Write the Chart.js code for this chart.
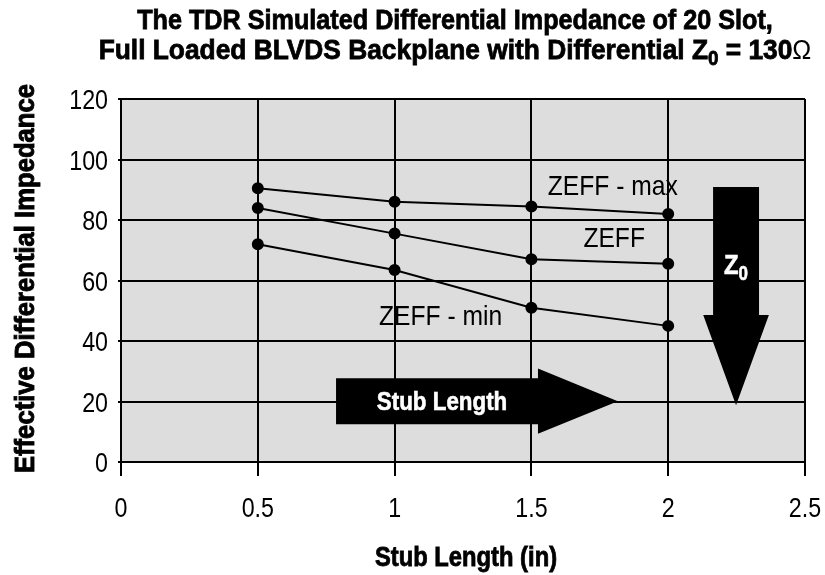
<!DOCTYPE html>
<html>
<head>
<meta charset="utf-8">
<script src="https://cdn.jsdelivr.net/npm/chart.js@4.4.1/dist/chart.umd.min.js"></script>
<style>
html, body { margin: 0; padding: 0; background: #fff; }
canvas { display: block; }
</style>
</head>
<body>
<canvas id="tdr" width="825" height="575"></canvas>
<script>
// stub length (in) vs effective differential impedance (ohm)
const stubLengths = [0.5, 1, 1.5, 2];
const zeffMax = [90.5, 86, 84.5, 82];
const zeffTyp = [84, 75.5, 67, 65.5];
const zeffMin = [72, 63.5, 51, 45];

const xTicks = [0, 0.5, 1, 1.5, 2, 2.5];
const yTicks = [0, 20, 40, 60, 80, 100, 120];

const FAMILY = "'Liberation Sans', Arial, sans-serif";
const PLOT_BG = '#dddddd';

// curve names, placed in data units
const curveLabels = [
    { text: 'ZEFF - max', x: 1.56, y: 90.9 },
    { text: 'ZEFF', x: 1.69, y: 73.7 },
    { text: 'ZEFF - min', x: 0.943, y: 47.9 }
];

// the two direction arrows, in data units
const stubArrow = { x0: 0.786, x1: 1.524, tip: 1.816, yMid: 20.1, halfBody: 7.6, halfHead: 10.8, text: 'Stub Length' };
const z0Arrow = { xMid: 2.248, halfBody: 0.084, halfHead: 0.12, yTop: 90.9, yBase: 48.6, tip: 18.8 };

function points(ys) {
    return stubLengths.map((x, i) => ({ x: x, y: ys[i] }));
}

function lineSet(label, ys) {
    return {
        label: label,
        data: points(ys),
        borderColor: '#000',
        backgroundColor: '#000',
        borderWidth: 2,
        pointRadius: 5,
        pointHoverRadius: 5,
        tension: 0
    };
}

// text squeezed horizontally by sx, to get a narrow face out of a normal one;
// an optional thin stroke puts back some of the weight lost by squeezing
function narrowText(ctx, text, x, y, o) {
    ctx.save();
    ctx.font = o.font;
    ctx.fillStyle = o.color || '#000';
    ctx.strokeStyle = o.color || '#000';
    ctx.textAlign = o.align || 'left';
    ctx.textBaseline = o.baseline || 'alphabetic';
    ctx.translate(x, y);
    if (o.rotate) ctx.rotate(o.rotate);
    ctx.scale(o.sx || 1, 1);
    ctx.fillText(text, 0, 0);
    if (o.heavy) {
        ctx.lineWidth = o.heavy;
        ctx.strokeText(text, 0, 0);
    }
    ctx.restore();
}

// a run of pieces (own font / vertical shift each), squeezed by sx
function narrowRuns(ctx, runs, x, y, sx, align, color, heavy) {
    ctx.save();
    let total = 0;
    runs.forEach(r => { ctx.font = r.font; total += ctx.measureText(r.text).width; });
    ctx.translate(x, y);
    ctx.scale(sx, 1);
    ctx.fillStyle = color || '#000';
    ctx.strokeStyle = color || '#000';
    ctx.textAlign = 'left';
    ctx.textBaseline = 'alphabetic';
    let cx = align === 'center' ? -total / 2 : 0;
    runs.forEach(r => {
        ctx.font = r.font;
        ctx.fillText(r.text, cx, r.dy || 0);
        if (heavy && !r.light) {
            ctx.lineWidth = heavy;
            ctx.strokeText(r.text, cx, r.dy || 0);
        }
        cx += ctx.measureText(r.text).width;
    });
    ctx.restore();
}

const plotBackground = {
    id: 'plotBackground',
    beforeDraw(chart) {
        const { ctx, chartArea: a } = chart;
        ctx.save();
        ctx.fillStyle = PLOT_BG;
        ctx.fillRect(a.left, a.top, a.right - a.left, a.bottom - a.top);
        ctx.restore();
    }
};

// tick labels, axis titles and the two-line heading
const axisText = {
    id: 'axisText',
    afterDraw(chart) {
        const { ctx, chartArea: a, scales: { x, y } } = chart;
        const tickFont = '28px ' + FAMILY;

        x.ticks.forEach(t => {
            narrowText(ctx, String(t.value), x.getPixelForValue(t.value), 517,
                { font: tickFont, sx: 0.83, align: 'center' });
        });
        y.ticks.forEach(t => {
            narrowText(ctx, String(t.value), a.left - 13, y.getPixelForValue(t.value) + 10,
                { font: tickFont, sx: 0.83, align: 'right' });
        });

        narrowText(ctx, 'Stub Length (in)', (a.left + a.right) / 2 + 3, 566,
            { font: 'bold 27px ' + FAMILY, sx: 0.88, align: 'center', heavy: 0.8 });
        narrowText(ctx, 'Effective Differential Impedance', 34, (a.top + a.bottom) / 2 - 2,
            { font: 'bold 27px ' + FAMILY, sx: 0.95, align: 'center', rotate: -Math.PI / 2, heavy: 0.9 });

        const bold = 'bold 28px ' + FAMILY;
        narrowRuns(ctx, [{ text: 'The TDR Simulated Differential Impedance of 20 Slot,', font: bold }],
            455, 29, 0.9, 'center', '#000', 0.8);
        narrowRuns(ctx, [
            { text: 'Full Loaded BLVDS Backplane with Differential Z', font: bold },
            { text: '0', font: 'bold 20px ' + FAMILY, dy: 6 },
            { text: ' = 130', font: bold },
            { text: '\u03A9', font: '27px ' + FAMILY, light: true }
        ], 455, 59, 0.94, 'center', '#000', 0.8);
    }
};

const annotations = {
    id: 'annotations',
    afterDatasetsDraw(chart) {
        const { ctx, scales: { x, y } } = chart;

        // curve names
        curveLabels.forEach(l => narrowText(ctx, l.text, x.getPixelForValue(l.x), y.getPixelForValue(l.y),
            { font: '28px ' + FAMILY, sx: 0.88, baseline: 'middle' }));

        ctx.save();
        ctx.fillStyle = '#000';

        // horizontal "Stub Length" arrow
        const s = stubArrow;
        ctx.beginPath();
        ctx.moveTo(x.getPixelForValue(s.x0), y.getPixelForValue(s.yMid + s.halfBody));
        ctx.lineTo(x.getPixelForValue(s.x1), y.getPixelForValue(s.yMid + s.halfBody));
        ctx.lineTo(x.getPixelForValue(s.x1), y.getPixelForValue(s.yMid + s.halfHead));
        ctx.lineTo(x.getPixelForValue(s.tip), y.getPixelForValue(s.yMid));
        ctx.lineTo(x.getPixelForValue(s.x1), y.getPixelForValue(s.yMid - s.halfHead));
        ctx.lineTo(x.getPixelForValue(s.x1), y.getPixelForValue(s.yMid - s.halfBody));
        ctx.lineTo(x.getPixelForValue(s.x0), y.getPixelForValue(s.yMid - s.halfBody));
        ctx.closePath();
        ctx.fill();

        // vertical Z0 arrow
        const z = z0Arrow;
        ctx.beginPath();
        ctx.moveTo(x.getPixelForValue(z.xMid - z.halfBody), y.getPixelForValue(z.yTop));
        ctx.lineTo(x.getPixelForValue(z.xMid + z.halfBody), y.getPixelForValue(z.yTop));
        ctx.lineTo(x.getPixelForValue(z.xMid + z.halfBody), y.getPixelForValue(z.yBase));
        ctx.lineTo(x.getPixelForValue(z.xMid + z.halfHead), y.getPixelForValue(z.yBase));
        ctx.lineTo(x.getPixelForValue(z.xMid), y.getPixelForValue(z.tip));
        ctx.lineTo(x.getPixelForValue(z.xMid - z.halfHead), y.getPixelForValue(z.yBase));
        ctx.lineTo(x.getPixelForValue(z.xMid - z.halfBody), y.getPixelForValue(z.yBase));
        ctx.closePath();
        ctx.fill();
        ctx.restore();

        narrowText(ctx, s.text, x.getPixelForValue(s.x0) + 106, y.getPixelForValue(s.yMid) + 9,
            { font: 'bold 26px ' + FAMILY, sx: 0.86, align: 'center', color: '#fff', heavy: 0.6 });
        narrowRuns(ctx, [
            { text: 'Z', font: 'bold 28px ' + FAMILY },
            { text: '0', font: 'bold 20px ' + FAMILY, dy: 6 }
        ], x.getPixelForValue(z.xMid), y.getPixelForValue(63.5) + 4, 0.85, 'center', '#fff', 0.6);
    }
};

Chart.defaults.font.family = FAMILY;
Chart.defaults.color = '#000';

new Chart(document.getElementById('tdr'), {
    type: 'line',
    data: {
        datasets: [
            lineSet('ZEFF - max', zeffMax),
            lineSet('ZEFF', zeffTyp),
            lineSet('ZEFF - min', zeffMin)
        ]
    },
    options: {
        responsive: false,
        animation: false,
        layout: { padding: { top: 99, right: 20, left: 0, bottom: 0 } },
        plugins: {
            legend: { display: false },
            title: { display: false },
            tooltip: { enabled: false }
        },
        scales: {
            x: {
                type: 'linear',
                min: 0,
                max: 2.5,
                afterBuildTicks: s => { s.ticks = xTicks.map(v => ({ value: v })); },
                afterFit: s => { s.height = 113; },
                border: { display: false },
                grid: { color: '#000', lineWidth: 2, drawTicks: true, tickLength: 14, tickColor: '#000' },
                ticks: { display: false }
            },
            y: {
                min: 0,
                max: 120,
                afterBuildTicks: s => { s.ticks = yTicks.map(v => ({ value: v })); },
                afterFit: s => { s.width = 121; },
                border: { display: false },
                grid: { color: '#000', lineWidth: 2, drawTicks: true, tickLength: 3, tickColor: '#000' },
                ticks: { display: false }
            }
        }
    },
    plugins: [plotBackground, axisText, annotations]
});
</script>
</body>
</html>
